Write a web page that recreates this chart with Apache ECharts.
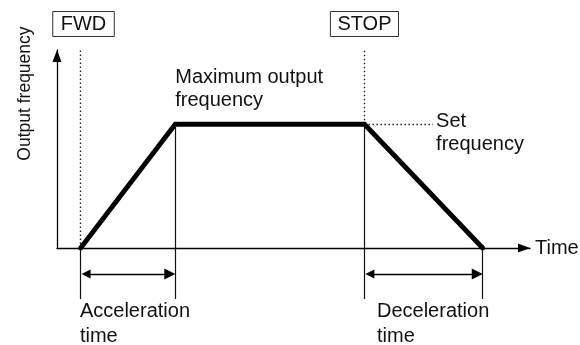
<!DOCTYPE html>
<html><head><meta charset="utf-8">
<script src="https://cdn.jsdelivr.net/npm/echarts@6/dist/echarts.min.js"></script>
<style>html,body{margin:0;padding:0;background:#fff}#c{width:580px;height:345px}</style>
</head><body><div id="c"></div>
<script>
// ---- data ----
const eventTimes = [1, 5, 13, 18];          // FWD, max reached, STOP, output stopped
const outputFrequency = [0, 50, 50, 0];     // Hz at those times
const setFrequency = 50;
const setFrequencyGuideEnd = 15.9;
const timeAxisMax = 20;
const freqAxisMax = 80;
const commandLabels = ['FWD', 'STOP'];
const annotationTexts = ['Maximum output\nfrequency', 'Set\nfrequency', 'Acceleration\ntime', 'Deceleration\ntime'];
const axisNames = ['Time', 'Output frequency'];

// ---- styles / layout ----
const FONT = "'Liberation Sans', Arial, Helvetica, sans-serif";
const INK = '#111';
const [tStart, tMax, tStop, tEnd] = eventTimes;
const belowAxis = -20.6, arrowLevel = -10.5, lowTextLevel = -30.5, boxLevel = 90.5;
const arrowInset = 0.23; // half arrow-head length, so the tips touch the guide lines

const txt = (size, extra) => Object.assign({show: true, color: INK, fontFamily: FONT, fontSize: size, formatter: '{b}'}, extra);

const chart = echarts.init(document.getElementById('c'), null, {renderer: 'canvas'});
chart.setOption({
  animation: false,
  backgroundColor: '#fff',
  grid: {left: 57, right: 50, top: 50, bottom: 97, outerBoundsMode: 'none'},
  xAxis: {
    type: 'value', min: 0, max: timeAxisMax,
    name: axisNames[0], nameLocation: 'end', nameGap: 5,
    nameTextStyle: {color: INK, fontFamily: FONT, fontSize: 20, verticalAlign: 'middle'},
    axisLine: {show: true, onZero: false, lineStyle: {color: '#000', width: 1.3}, symbol: ['none', 'triangle'], symbolSize: [9, 12], symbolOffset: [0, -6]},
    axisTick: {show: false}, axisLabel: {show: false}, splitLine: {show: false}
  },
  yAxis: {
    type: 'value', min: 0, max: freqAxisMax,
    axisLine: {show: true, onZero: false, lineStyle: {color: '#000', width: 1.3}, symbol: ['none', 'triangle'], symbolSize: [9, 12], symbolOffset: [0, -6]},
    axisTick: {show: false}, axisLabel: {show: false}, splitLine: {show: false}
  },
  series: [
    {
      type: 'lines', coordinateSystem: 'cartesian2d', clip: false, silent: true, z: 2,
      lineStyle: {color: '#222', width: 1.4, type: [1.5, 2.5], opacity: 1},
      data: [
        {coords: [[tStart, 0], [tStart, freqAxisMax]]},
        {coords: [[tStop, setFrequency], [tStop, freqAxisMax]]},
        {coords: [[tStop, setFrequency], [setFrequencyGuideEnd, setFrequency]]}
      ]
    },
    {
      type: 'lines', coordinateSystem: 'cartesian2d', clip: false, silent: true, z: 2,
      lineStyle: {color: '#111', width: 1.2, opacity: 1},
      data: [
        {coords: [[tStart, 0], [tStart, belowAxis]]},
        {coords: [[tMax, outputFrequency[1]], [tMax, belowAxis]]},
        {coords: [[tStop, outputFrequency[2]], [tStop, belowAxis]]},
        {coords: [[tEnd, 0], [tEnd, belowAxis]]}
      ]
    },
    {
      type: 'lines', coordinateSystem: 'cartesian2d', clip: false, silent: true, z: 3,
      symbol: ['triangle', 'triangle'], symbolSize: [9, 11],
      lineStyle: {color: '#000', width: 1.3, opacity: 1},
      data: [
        {coords: [[tStart + arrowInset, arrowLevel], [tMax - arrowInset, arrowLevel]]},
        {coords: [[tStop + arrowInset, arrowLevel], [tEnd - arrowInset, arrowLevel]]}
      ]
    },
    {
      type: 'line', clip: false, silent: true, z: 5, symbol: 'none',
      lineStyle: {color: '#000', width: 4.8, cap: 'round', join: 'miter'},
      data: eventTimes.map((t, i) => [t, outputFrequency[i]])
    },
    {
      type: 'scatter', clip: false, silent: true, symbolSize: 0, z: 6,
      itemStyle: {opacity: 1},
      data: [
        {name: commandLabels[0], value: [1.12, boxLevel], label: txt(20, {position: 'inside', align: 'center', verticalAlign: 'middle', borderColor: '#333', borderWidth: 1, padding: [3, 8, 2, 8], lineHeight: 20})},
        {name: commandLabels[1], value: [tStop, boxLevel], label: txt(20, {position: 'inside', align: 'center', verticalAlign: 'middle', borderColor: '#333', borderWidth: 1, padding: [3, 7, 2, 7], lineHeight: 20})},
        {name: annotationTexts[0], value: [tMax, 64.2], label: txt(20, {position: 'right', distance: 0, lineHeight: 23})},
        {name: annotationTexts[1], value: [16.03, 46.3], label: txt(20, {position: 'right', distance: 0, lineHeight: 23})},
        {name: annotationTexts[2], value: [0.97, lowTextLevel], label: txt(20, {position: 'right', distance: 0, lineHeight: 25})},
        {name: annotationTexts[3], value: [13.53, lowTextLevel], label: txt(20, {position: 'right', distance: 0, lineHeight: 25})},
        {name: axisNames[1], value: [-1.35, 62.4], label: txt(17.5, {position: 'inside', rotate: 90, align: 'center', verticalAlign: 'middle'})}
      ]
    }
  ]
});
</script>
</body></html>
